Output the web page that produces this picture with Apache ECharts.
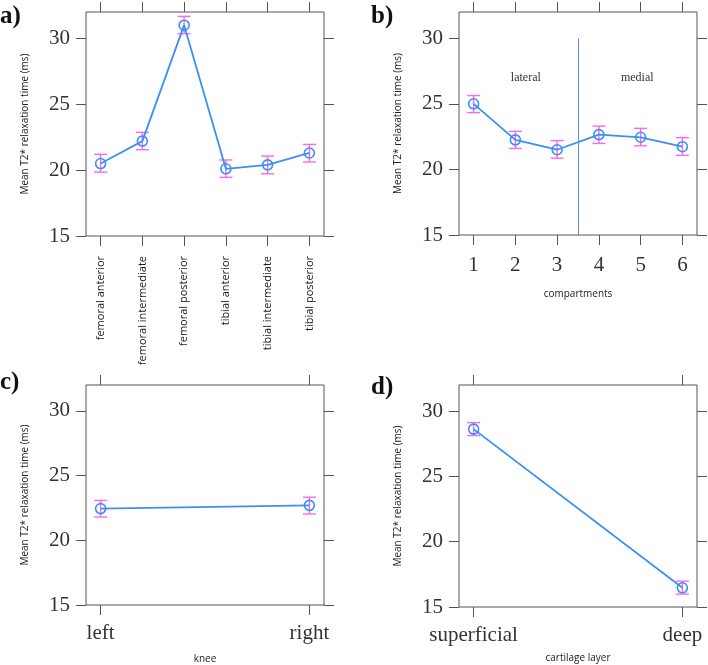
<!DOCTYPE html>
<html>
<head>
<meta charset="utf-8">
<script src="https://cdn.jsdelivr.net/npm/echarts@6/dist/echarts.min.js"></script>
<style>
  html, body { margin: 0; padding: 0; background: #fff; }
  #main { width: 708px; height: 665px; }
</style>
</head>
<body>
<div id="main"></div>
<script>
// a) cartilage region
var regionCats = ['femoral anterior', 'femoral intermediate', 'femoral posterior', 'tibial anterior', 'tibial intermediate', 'tibial posterior']
var regionMean = [20.5, 22.2, 31.0, 20.1, 20.4, 21.3]
var regionLow = [19.85, 21.55, 30.35, 19.45, 19.72, 20.62]
var regionHigh = [21.2, 22.87, 31.67, 20.77, 21.07, 21.95]

// b) compartments
var compCats = ['1', '2', '3', '4', '5', '6']
var compMean = [25.0, 22.25, 21.5, 22.65, 22.45, 21.73]
var compLow = [24.33, 21.6, 20.86, 21.98, 21.8, 21.07]
var compHigh = [25.63, 22.9, 22.2, 23.3, 23.13, 22.42]
var compDivider = 3.5
var compNotes = [['lateral', 2.25, 27], ['medial', 4.92, 27]]

// c) knee
var kneeCats = ['left', 'right']
var kneeMean = [22.45, 22.7]
var kneeLow = [21.8, 22.03]
var kneeHigh = [23.08, 23.33]

// d) cartilage layer
var layerCats = ['superficial', 'deep']
var layerMean = [28.62, 16.47]
var layerLow = [28.13, 15.99]
var layerHigh = [29.12, 16.98]

var yTicks = [15, 20, 25, 30]
var yTitle = 'Mean T2* relaxation time (ms)'

var chart = echarts.init(document.getElementById('main'))

var lineColor = '#3a90f6'
var barColor = '#ff66f0'
var boxColor = '#555'
var serif = '"Liberation Serif", "DejaVu Serif", serif'
var sans = '"Open Sans", "Noto Sans", sans-serif'

var panels = [
  { letter: 'a)', cats: regionCats, mean: regionMean, low: regionLow, high: regionHigh, name: '', rotate: 90, labelGap: 20,
    grid: { left: 86, top: 12, width: 238, height: 224 }, letterPos: [0, 4] },
  { letter: 'b)', cats: compCats, mean: compMean, low: compLow, high: compHigh, name: 'compartments', nameGap: 54, labelGap: 20,
    grid: { left: 459, top: 12, width: 238, height: 223 }, letterPos: [371, 4] },
  { letter: 'c)', cats: kneeCats, mean: kneeMean, low: kneeLow, high: kneeHigh, name: 'knee', nameGap: 49, labelGap: 18,
    grid: { left: 86, top: 385, width: 238, height: 222 }, letterPos: [0, 370] },
  { letter: 'd)', cats: layerCats, mean: layerMean, low: layerLow, high: layerHigh, name: 'cartilage layer', nameGap: 46, labelGap: 18,
    grid: { left: 459, top: 385, width: 238, height: 222 }, letterPos: [371, 375] }
]

function errorBar(params, api) {
  var x = api.value(0)
  var lo = api.coord([x, api.value(1)])
  var hi = api.coord([x, api.value(2)])
  var w = 6.5
  var style = { stroke: barColor, lineWidth: 1.4 }
  return {
    type: 'group',
    children: [
      { type: 'line', shape: { x1: lo[0], y1: lo[1], x2: hi[0], y2: hi[1] }, style: style },
      { type: 'line', shape: { x1: lo[0] - w, y1: lo[1], x2: lo[0] + w, y2: lo[1] }, style: style },
      { type: 'line', shape: { x1: hi[0] - w, y1: hi[1], x2: hi[0] + w, y2: hi[1] }, style: style }
    ]
  }
}

var grids = [], xAxes = [], yAxes = [], series = [], graphics = []

panels.forEach(function (p, i) {
  var n = p.cats.length
  var pad = (n - 1) * 0.07
  var xTicks = p.cats.map(function (c, k) { return k + 1 })
  grids.push(Object.assign({ show: true, borderColor: boxColor, borderWidth: 1, containLabel: false }, p.grid))

  var tick = { show: true, inside: false, length: 10, lineStyle: { color: boxColor, width: 1 } }
  // bottom axis with labels
  xAxes.push({
    type: 'value', gridIndex: i, position: 'bottom', min: 1 - pad, max: n + pad,
    axisLine: { show: false }, splitLine: { show: false },
    axisTick: Object.assign({ customValues: xTicks }, tick),
    axisLabel: {
      customValues: xTicks, rotate: p.rotate || 0, margin: p.labelGap,
      fontFamily: p.rotate ? sans : serif, fontSize: p.rotate ? 11 : 21, color: p.rotate ? '#1a1a1a' : '#333',
      formatter: function (v) { return p.cats[Math.round(v) - 1] }
    },
    name: p.name, nameLocation: 'middle', nameGap: p.nameGap || 0,
    nameTextStyle: { fontFamily: sans, fontSize: 10, color: '#222' }
  })
  // top axis, ticks only
  xAxes.push({
    type: 'value', gridIndex: i, position: 'top', min: 1 - pad, max: n + pad,
    axisLine: { show: false }, splitLine: { show: false },
    axisTick: Object.assign({ customValues: xTicks }, tick),
    axisLabel: { show: false }
  })
  yAxes.push({
    type: 'value', gridIndex: i, position: 'left', min: 15, max: 32,
    axisLine: { show: false }, splitLine: { show: false },
    axisTick: Object.assign({ customValues: yTicks }, tick),
    axisLabel: { customValues: yTicks, margin: 16, fontFamily: serif, fontSize: 21, color: '#333' },
    name: yTitle, nameLocation: 'middle', nameGap: 56,
    nameTextStyle: { fontFamily: sans, fontSize: 10, color: '#222' }
  })
  yAxes.push({
    type: 'value', gridIndex: i, position: 'right', min: 15, max: 32,
    axisLine: { show: false }, splitLine: { show: false },
    axisTick: Object.assign({ customValues: yTicks }, tick),
    axisLabel: { show: false }
  })

  series.push({
    type: 'custom', xAxisIndex: i * 2, yAxisIndex: i * 2,
    renderItem: errorBar, z: 2,
    data: p.mean.map(function (m, k) { return [k + 1, p.low[k], p.high[k]] })
  })
  var line = {
    type: 'line', xAxisIndex: i * 2, yAxisIndex: i * 2, z: 3,
    data: p.mean.map(function (m, k) { return [k + 1, m] }),
    symbol: 'circle', symbolSize: 10,
    lineStyle: { color: lineColor, width: 1.8 },
    itemStyle: { color: 'rgba(0,0,0,0)', borderColor: lineColor, borderWidth: 1.6 },
    emphasis: { disabled: true }, animation: false
  }
  if (i === 1) {
    line.markLine = {
      silent: true, symbol: 'none', label: { show: false },
      lineStyle: { color: '#5b8fe0', width: 1, type: 'solid' },
      data: [[{ coord: [compDivider, 15] }, { coord: [compDivider, 30] }]]
    }
    line.markPoint = {
      silent: true, symbol: 'circle', symbolSize: 0,
      label: { show: true, position: 'inside', fontFamily: serif, fontSize: 12, color: '#333',
        formatter: function (d) { return d.name } },
      data: compNotes.map(function (t) { return { name: t[0], coord: [t[1], t[2]] } })
    }
  }
  series.push(line)

  graphics.push({
    type: 'text', left: p.letterPos[0], top: p.letterPos[1],
    style: { text: p.letter, font: 'bold 25px ' + serif, fill: '#111' }
  })
})

chart.setOption({
  backgroundColor: '#fff',
  animation: false,
  grid: grids,
  xAxis: xAxes,
  yAxis: yAxes,
  series: series,
  graphic: graphics
})
</script>
</body>
</html>
